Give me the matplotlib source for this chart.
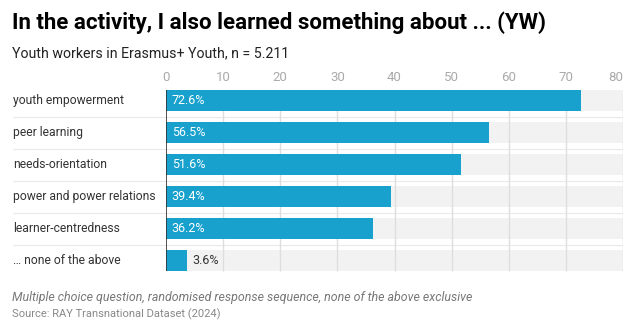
import matplotlib
matplotlib.use("Agg")
import matplotlib.pyplot as plt
from matplotlib.lines import Line2D
from matplotlib.transforms import blended_transform_factory

categories = ["youth empowerment", "peer learning", "needs-orientation",
              "power and power relations", "learner-centredness",
              "\u2026 none of the above"]
values = [72.6, 56.5, 51.6, 39.4, 36.2, 3.6]
xticks = [0, 10, 20, 30, 40, 50, 60, 70, 80]

title = "In the activity, I also learned something about ... (YW)"
subtitle = "Youth workers in Erasmus+ Youth, n = 5.211"
note = "Multiple choice question, randomised response sequence, none of the above exclusive"
source = "Source: RAY Transnational Dataset (2024)"

plt.rcParams["font.family"] = ["Roboto", "DejaVu Sans"]

W, H = 627, 321
fig = plt.figure(figsize=(W / 100, H / 100), dpi=100)

def fx(px):
    return px / W

def fy(py):
    return 1 - py / H

# plot area in pixel terms
left, right, top, bottom = 166, 623, 84.5, 276.5
ax = fig.add_axes([fx(left), fy(bottom), fx(right) - fx(left), fy(top) - fy(bottom)])
ax.set_xlim(0, 80)
ax.set_ylim(len(categories) - 0.5, -0.5)

bar_h = 0.66
blue = "#18a1cd"
n = len(categories)

# grey track behind every bar
ax.barh(range(n), [80] * n, height=bar_h, color="#f2f2f2", zorder=1)
# vertical gridlines
ax.vlines(xticks[1:], -0.5 + (1 - bar_h) / 2, n - 0.5 - (1 - bar_h) / 2,
          color="#dedede", linewidth=1, zorder=2)
ax.barh(range(n), values, height=bar_h, color=blue, zorder=3)
# zero axis line
ax.vlines(0, -0.5 + (1 - bar_h) / 2, n - 0.5 - (1 - bar_h) / 2,
          color="#333333", linewidth=1.2, zorder=4)

for i, v in enumerate(values):
    label = f"{v:.1f}%"
    if v > 10:
        ax.text(1.0, i, label, color="white", fontsize=9, va="center", ha="left", zorder=5)
    else:
        ax.text(v + 1.0, i, label, color="#333333", fontsize=9, va="center", ha="left", zorder=5)

# dotted separators spanning labels and bars
trans = blended_transform_factory(fig.transFigure, ax.transData)
for i in range(n - 1):
    ax.add_line(Line2D([fx(13), fx(623)], [i + 0.5, i + 0.5], transform=trans,
                       color="#d6d6d6", linewidth=0.9, linestyle=(0, (0.8, 0.8)),
                       clip_on=False, zorder=0))

# category labels
for i, c in enumerate(categories):
    ax.text(fx(13), i, c, transform=trans, fontsize=8.75, color="#333333",
            va="center", ha="left")

ax.xaxis.tick_top()
ax.set_xticks(xticks)
ax.set_xticklabels([str(t) for t in xticks])
ax.tick_params(axis="x", length=0, pad=0.5, labelsize=9.5, labelcolor="#aaaaaa")
ax.get_xticklabels()[-1].set_horizontalalignment("right")
ax.set_yticks([])
for s in ax.spines.values():
    s.set_visible(False)
ax.patch.set_alpha(0)

fig.text(fx(12), fy(23), title, fontsize=16, fontweight="bold", color="#000000",
         va="center", ha="left")
fig.text(fx(12), fy(53), subtitle, fontsize=10.2, color="#222222", va="center", ha="left")
fig.text(fx(12), fy(298), note, fontsize=8.9, style="italic", color="#777777",
         va="center", ha="left")
fig.text(fx(12), fy(314), source, fontsize=8.0, color="#888888", va="center", ha="left")

fig.savefig("out.png", dpi=100)
